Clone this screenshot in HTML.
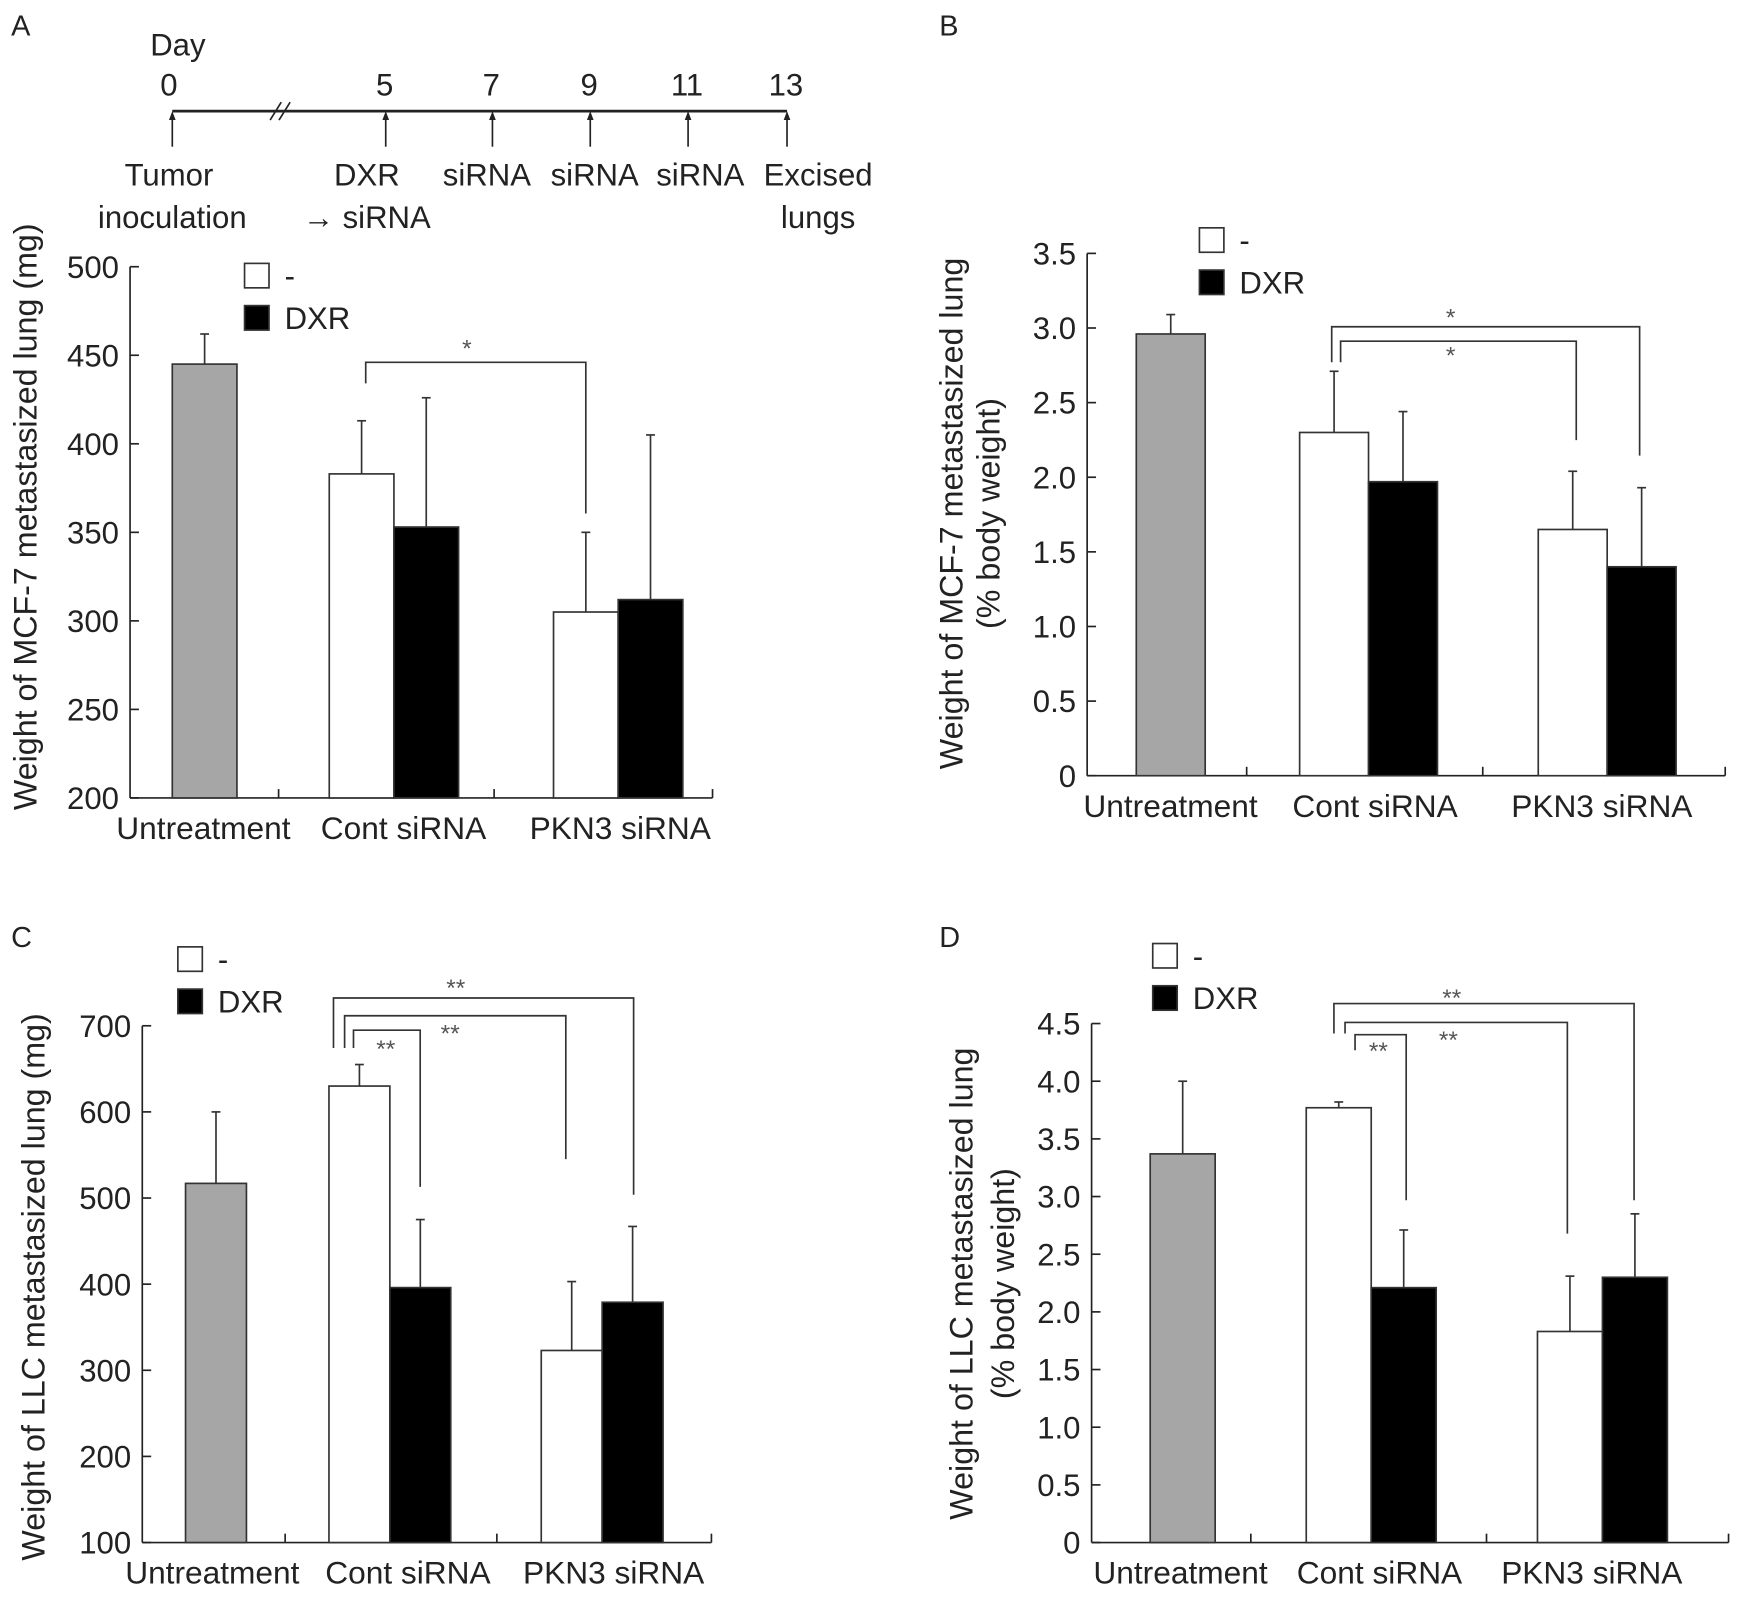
<!DOCTYPE html>
<html><head><meta charset="utf-8"><style>
html,body{margin:0;padding:0;background:#fff;}
svg{display:block;font-family:"Liberation Sans",Arial,sans-serif;}
</style></head>
<body>
<svg id="fig" width="1743" height="1597" viewBox="0 0 1568 1437" preserveAspectRatio="none" xmlns="http://www.w3.org/2000/svg">
<g id="timeline" stroke="#222" fill="#222" font-size="28">
<text x="10" y="32" stroke="none" font-size="26">A</text>
<text x="160" y="50" stroke="none" text-anchor="middle">Day</text>
<line x1="155" y1="100" x2="708" y2="100" stroke-width="2.5"/>
<line x1="243" y1="108" x2="253" y2="92" stroke-width="1.5"/>
<line x1="251" y1="108" x2="261" y2="92" stroke-width="1.5"/>
</g>
</svg>
<script>
const NS='http://www.w3.org/2000/svg';
const svg=document.getElementById('fig');
function el(tag,attrs,parent,txt){const e=document.createElementNS(NS,tag);for(const k in attrs)e.setAttribute(k,attrs[k]);if(txt!==undefined)e.textContent=txt;(parent||svg).appendChild(e);return e;}

// timeline data
const tlDays=['0','5','7','9','11','13'];
const tlDayX=[152,346,442,530,618,707];
const tlLab1=['Tumor','DXR','siRNA','siRNA','siRNA','Excised'];
const tlLab2=['inoculation','\u2192 siRNA','','','','lungs'];
const tlLabX=[152,330,438,535,630,736];
const tlLab2X=[155,330,438,535,630,736];
const tl=document.getElementById('timeline');
tlDays.forEach((d,i)=>{
  const t=el('text',{x:tlDayX[i],y:86,'text-anchor':'middle',stroke:'none','font-size':28},tl,d);
  
  
  const ax=i==0?155:tlDayX[i]+1;
  el('line',{x1:ax,y1:132,x2:ax,y2:103,'stroke-width':1.5},tl);
  el('path',{d:`M${ax-3},108 L${ax},100 L${ax+3},108 Z`,stroke:'none'},tl);
  const a=el('text',{x:tlLabX[i],y:167,'text-anchor':'middle',stroke:'none','font-size':28},tl,tlLab1[i]);
  
  
  if(tlLab2[i]){const b=el('text',{x:tlLab2X[i],y:205,'text-anchor':'middle',stroke:'none','font-size':28},tl,tlLab2[i]);
  
  }
});

// ---- chart data ----
const categories=['Untreatment','Cont siRNA','PKN3 siRNA'];
const legendLabels=['-','DXR'];
// Panel A
const aTicks=[200,250,300,350,400,450,500];
const aUntreat=[445], aUntreatErr=[462];
const aMinus=[383,305], aMinusErr=[413,350];
const aDXR=[353,312], aDXRErr=[426,405];
// Panel B
const bTicks=[0,0.5,1.0,1.5,2.0,2.5,3.0,3.5];
const bTickLabels=['0','0.5','1.0','1.5','2.0','2.5','3.0','3.5'];
const bUntreat=[2.96], bUntreatErr=[3.09];
const bMinus=[2.30,1.65], bMinusErr=[2.71,2.04];
const bDXR=[1.97,1.40], bDXRErr=[2.44,1.93];
// Panel C
const cTicks=[100,200,300,400,500,600,700];
const cUntreat=[517], cUntreatErr=[600];
const cMinus=[630,323], cMinusErr=[655,403];
const cDXR=[396,379], cDXRErr=[475,467];
// Panel D
const dTicks=[0,0.5,1.0,1.5,2.0,2.5,3.0,3.5,4.0,4.5];
const dTickLabels=['0','0.5','1.0','1.5','2.0','2.5','3.0','3.5','4.0','4.5'];
const dUntreat=[3.37], dUntreatErr=[4.0];
const dMinus=[3.77,1.83], dMinusErr=[3.82,2.31];
const dDXR=[2.21,2.30], dDXRErr=[2.71,2.85];

function panel(cfg){
  const g=el('g',{});
  
  
  const {x0,x1,yTop,yBot,min,max}=cfg;
  const Y=v=>yBot-(v-min)/(max-min)*(yBot-yTop);
  const W=x1-x0;
  const X=f=>x0+f*W;
  el('line',{x1:x0,y1:yTop,x2:x0,y2:yBot,stroke:'#222','stroke-width':1.5},g);
  el('line',{x1:x0,y1:yBot,x2:x1,y2:yBot,stroke:'#222','stroke-width':1.5},g);
  cfg.ticks.forEach((t,i)=>{
    el('line',{x1:x0,y1:Y(t),x2:x0+8,y2:Y(t),stroke:'#222','stroke-width':1.5},g);
    const lab=el('text',{x:x0-10,y:Y(t)+10,'text-anchor':'end','font-size':28,fill:'#222'},g,cfg.tickLabels?cfg.tickLabels[i]:String(t));
    
    
  });
  cfg.sep.forEach(f=>el('line',{x1:X(f),y1:yBot,x2:X(f),y2:yBot-8,stroke:'#222','stroke-width':1.5},g));
  function bar(xl,w,v,e,fill,name){
    el('line',{x1:xl+w/2,y1:Y(v),x2:xl+w/2,y2:Y(e),stroke:'#333','stroke-width':1.5},g);
    el('line',{x1:xl+w/2-4,y1:Y(e),x2:xl+w/2+4,y2:Y(e),stroke:'#333','stroke-width':1.5},g);
    const r=el('rect',{x:xl,y:Y(v),width:w,height:yBot-Y(v),fill:fill,stroke:'#333','stroke-width':1.5},g);
    
    
  }
  const bw=W*cfg.bw;
  bar(X(cfg.gx[0]),bw,cfg.u[0],cfg.ue[0],'#a6a6a6','bar-untreatment');
  [cfg.gx[1],cfg.gx[2]].forEach((f,i)=>{
    bar(X(f),bw,cfg.m[i],cfg.me[i],'#fff','bar-minus-'+(i?'pkn3':'cont'));
    bar(X(f)+bw,bw,cfg.d[i],cfg.de[i],'#000','bar-dxr-'+(i?'pkn3':'cont'));
  });
  categories.forEach((c,i)=>{
    const t=el('text',{x:cfg.catX[i],y:yBot+37,'text-anchor':'middle','font-size':28.5,fill:'#222'},g,c);
    
    
  });
  legendLabels.forEach((l,i)=>{
    const ly=cfg.legY+i*38;
    const r=el('rect',{x:cfg.legX,y:ly,width:22,height:22,fill:i?'#000':'#fff',stroke:'#333','stroke-width':1.5},g);
    
    
    const t=el('text',{x:cfg.legX+36,y:ly+21,'font-size':28,fill:'#222'},g,l);
    
    
  });
  cfg.brackets.forEach(b=>{
    el('path',{d:`M${b[0]},${b[3]} L${b[0]},${b[2]} L${b[1]},${b[2]} L${b[1]},${b[4]}`,fill:'none',stroke:'#333','stroke-width':1.5},g);
  });
  cfg.stars.forEach(s=>{
    const t=el('text',{x:s[0],y:s[1],'text-anchor':'middle','font-size':22,fill:'#555'},g,s[2]);
    
    
  });
  cfg.ylab.forEach((l,i)=>{
    const cx=cfg.ylabX[i], cy=cfg.ylabY;
    const t=el('text',{x:cx,y:cy,'text-anchor':'middle','font-size':29,fill:'#222',transform:`rotate(-90 ${cx} ${cy})`},g,l);
    
    
  });
  if(cfg.plt){const pl=el('text',{x:cfg.pl[0],y:cfg.pl[1],'font-size':26,fill:'#222'},g,cfg.plt);
  
  }
}

panel({name:'panel-a',x0:117,x1:641,yTop:240,yBot:718,min:200,max:500,ticks:aTicks,
  gx:[0.0725,0.342,0.727],bw:0.111,sep:[0.255,0.625,1],catX:[183,363,558],
  u:aUntreat,ue:aUntreatErr,m:aMinus,me:aMinusErr,d:aDXR,de:aDXRErr,legX:220,legY:237,
  brackets:[[329,527,326,345,462]],stars:[[420,321,'*']],
  ylab:['Weight of MCF-7 metastasized lung (mg)'],ylabX:[33],ylabY:465,pl:[0,0],plt:''});
panel({name:'panel-b',x0:978,x1:1552,yTop:228,yBot:698,min:0,max:3.5,ticks:bTicks,tickLabels:bTickLabels,
  gx:[0.077,0.333,0.707],bw:0.108,sep:[0.25,0.62,1],catX:[1053,1237,1441],
  u:bUntreat,ue:bUntreatErr,m:bMinus,me:bMinusErr,d:bDXR,de:bDXRErr,legX:1079,legY:205,
  brackets:[[1198,1475,294,326,410],[1206,1418,307,326,396]],stars:[[1305,293,'*'],[1305,327,'*']],
  ylab:['Weight of MCF-7 metastasized lung','(% body weight)'],ylabX:[866,899],ylabY:462,pl:[845,32],plt:'B'});
panel({name:'panel-c',x0:128,x1:640,yTop:923,yBot:1388,min:100,max:700,ticks:cTicks,
  gx:[0.076,0.328,0.701],bw:0.107,sep:[0.251,0.623,1],catX:[191,367,552],
  u:cUntreat,ue:cUntreatErr,m:cMinus,me:cMinusErr,d:cDXR,de:cDXRErr,legX:160,legY:852,
  brackets:[[300,570,898,943,1075],[310,509,914,943,1043],[318,378,927,943,1068]],
  stars:[[347,951,'**'],[405,937,'**'],[410,896,'**']],
  ylab:['Weight of LLC metastasized lung (mg)'],ylabX:[40],ylabY:1158,pl:[10,852],plt:'C'});
panel({name:'panel-d',x0:982,x1:1555,yTop:921,yBot:1388,min:0,max:4.5,ticks:dTicks,tickLabels:dTickLabels,
  gx:[0.092,0.337,0.70],bw:0.102,sep:[0.25,0.62,1],catX:[1062,1241,1432],
  u:dUntreat,ue:dUntreatErr,m:dMinus,me:dMinusErr,d:dDXR,de:dDXRErr,legX:1037,legY:849,
  brackets:[[1200,1470,903,930,1080],[1210,1410,920,930,1110],[1219,1265,931,945,1080]],
  stars:[[1240,953,'**'],[1303,943,'**'],[1306,905,'**']],
  ylab:['Weight of LLC metastasized lung','(% body weight)'],ylabX:[875,912],ylabY:1155,pl:[845,852],plt:'D'});
</script>
</body></html>
